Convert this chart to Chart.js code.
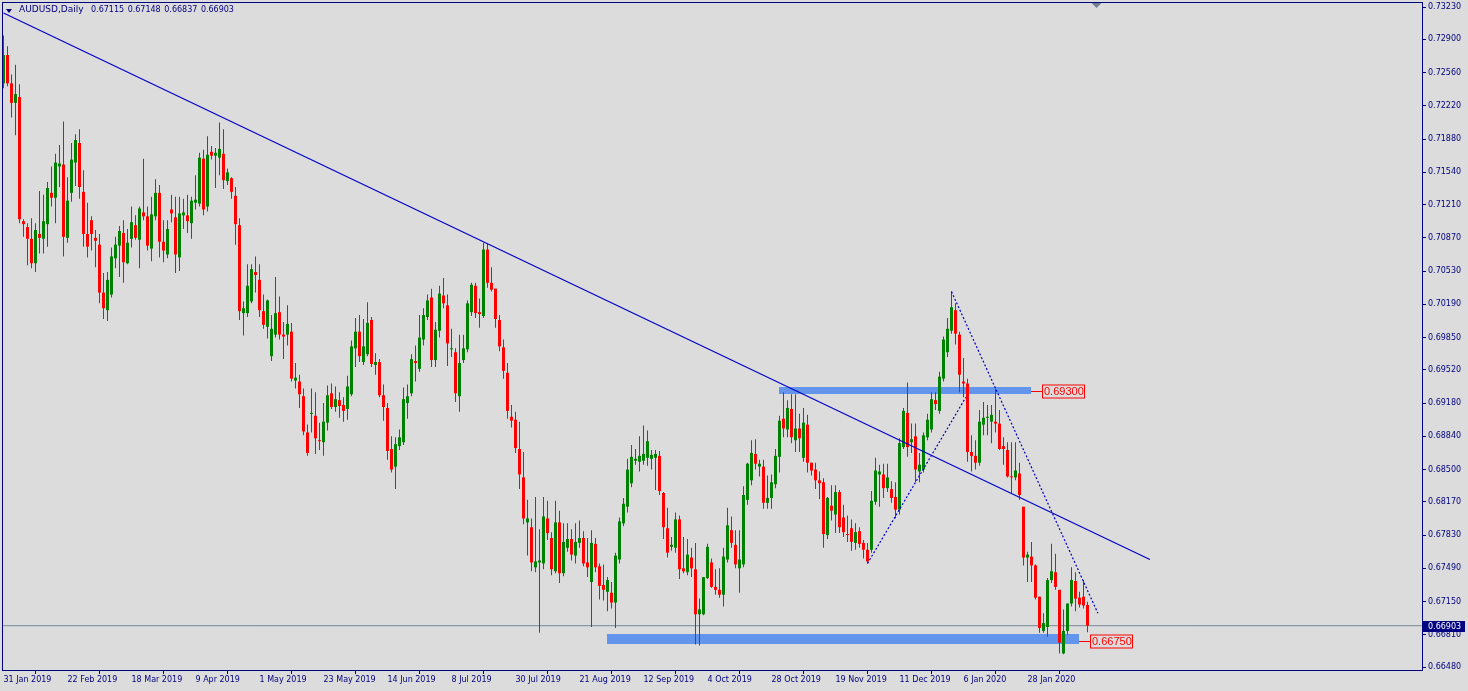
<!DOCTYPE html>
<html>
<head>
<meta charset="utf-8">
<title>AUDUSD,Daily</title>
<script src="https://cdn.jsdelivr.net/npm/chart.js@4.4.1/dist/chart.umd.min.js"></script>
<style>
  html, body { margin: 0; padding: 0; background: #dcdcdc; }
  #wrap { position: relative; width: 1468px; height: 691px; overflow: hidden; }
  #head { position: absolute; left: 0; top: 0; color: #000080; font-family: "DejaVu Sans", sans-serif; white-space: pre; }
  #head .tri { position: absolute; left: 6px; top: 9px; width: 0; height: 0;
               border-left: 3.5px solid transparent; border-right: 3.5px solid transparent; border-top: 4px solid #000080; }
  #head .sym { position: absolute; left: 19px; top: 4px; font-size: 9px; line-height: 11px; }
  #head .q { position: absolute; left: 91px; top: 5px; font-size: 8px; line-height: 10px; word-spacing: 1px; }
</style>
</head>
<body>
<div id="wrap">
  <canvas id="chart" width="1468" height="691"></canvas>
  <div id="head"><span class="tri"></span><span class="sym">AUDUSD,Daily</span><span class="q">0.67115 0.67148 0.66837 0.66903</span></div>
</div>
<script>
// ===== DATA =====
const dateLabels = ["31 Jan 2019", "22 Feb 2019", "18 Mar 2019", "9 Apr 2019", "1 May 2019", "23 May 2019",
  "14 Jun 2019", "8 Jul 2019", "30 Jul 2019", "21 Aug 2019", "12 Sep 2019", "4 Oct 2019", "28 Oct 2019",
  "19 Nov 2019", "11 Dec 2019", "6 Jan 2020", "28 Jan 2020"];
const dateBars = [0, 16, 32, 48, 64, 80, 96, 112, 128, 144, 160, 176, 192, 208, 224, 240, 256];

const priceTicks = [0.73230, 0.72900, 0.72560, 0.72220, 0.71880, 0.71540, 0.71210, 0.70870, 0.70530, 0.70190,
  0.69850, 0.69520, 0.69180, 0.68840, 0.68500, 0.68170, 0.67830, 0.67490, 0.67150, 0.66810, 0.66480];

const openP = [
  0.7245,0.7274,0.7245,0.7225,0.7231,0.7104,0.7098,0.7086,0.7061,0.7091,
  0.7086,0.7101,0.7133,0.7128,0.7160,0.7162,0.7087,0.7133,0.7164,0.7184,
  0.7134,0.7091,0.7105,0.7087,0.7080,0.7031,0.7013,0.7029,0.7066,0.7079,
  0.7092,0.7061,0.7086,0.7100,0.7085,0.7113,0.7109,0.7076,0.7109,0.7133,
  0.7083,0.7070,0.7116,0.7108,0.7067,0.7110,0.7110,0.7102,0.7123,0.7122,
  0.7168,0.7119,0.7175,0.7171,0.7169,0.7173,0.7145,0.7148,0.7130,0.7100,
  0.7010,0.7010,0.7022,0.7052,0.7044,0.7012,0.6996,0.6966,0.6988,0.7011,
  0.6988,0.6988,0.6991,0.6941,0.6940,0.6925,0.6888,0.6907,0.6905,0.6880,
  0.6878,0.6898,0.6928,0.6914,0.6921,0.6916,0.6912,0.6927,0.6974,0.6991,
  0.6960,0.6968,0.7003,0.6957,0.6960,0.6926,0.6913,0.6871,0.6853,0.6874,
  0.6878,0.6918,0.6928,0.6961,0.6953,0.6983,0.7006,0.7026,0.6962,0.6992,
  0.7028,0.7018,0.6973,0.6970,0.6925,0.6962,0.6973,0.7011,0.7038,0.7011,
  0.7007,0.7075,0.7041,0.7035,0.7003,0.6975,0.6949,0.6904,0.6901,0.6871,
  0.6842,0.6796,0.6791,0.6750,0.6755,0.6754,0.6800,0.6780,0.6746,0.6796,
  0.6744,0.6770,0.6779,0.6762,0.6775,0.6780,0.6755,0.6735,0.6774,0.6751,
  0.6732,0.6725,0.6724,0.6714,0.6758,0.6795,0.6812,0.6836,0.6859,0.6858,
  0.6859,0.6862,0.6861,0.6862,0.6864,0.6826,0.6790,0.6771,0.6770,0.6799,
  0.6749,0.6745,0.6760,0.6748,0.6702,0.6702,0.6739,0.6755,0.6730,0.6727,
  0.6722,0.6758,0.6788,0.6773,0.6749,0.6753,0.6819,0.6839,0.6866,0.6853,
  0.6853,0.6816,0.6821,0.6835,0.6863,0.6902,0.6891,0.6912,0.6880,0.6892,
  0.6862,0.6896,0.6857,0.6850,0.6839,0.6837,0.6783,0.6813,0.6804,0.6827,
  0.6801,0.6784,0.6790,0.6775,0.6787,0.6775,0.6768,0.6768,0.6817,0.6845,
  0.6845,0.6831,0.6830,0.6822,0.6809,0.6873,0.6908,0.6878,0.6884,0.6848,
  0.6850,0.6883,0.6891,0.6921,0.6910,0.6943,0.6970,0.6992,0.7013,0.6988,
  0.6940,0.6938,0.6868,0.6864,0.6857,0.6896,0.6903,0.6899,0.6899,0.6897,
  0.6874,0.6870,0.6843,0.6842,0.6846,0.6812,0.6760,0.6761,0.6752,0.6720,
  0.6685,0.6689,0.6737,0.6745,0.6727,0.6662,0.6685,0.6713,0.6736,0.6719,
  0.6720,0.67115];
const highP = [
  0.7294,0.7283,0.7254,0.7264,0.7244,0.7106,0.7102,0.7107,0.7102,0.7135,
  0.7131,0.7144,0.7160,0.7173,0.7182,0.7206,0.7149,0.7184,0.7193,0.7198,
  0.7156,0.7123,0.7109,0.7095,0.7091,0.7051,0.7052,0.7077,0.7088,0.7099,
  0.7105,0.7096,0.7119,0.7110,0.7119,0.7168,0.7119,0.7129,0.7147,0.7141,
  0.7105,0.7105,0.7131,0.7129,0.7129,0.7127,0.7131,0.7129,0.7151,0.7174,
  0.7177,0.7191,0.7181,0.7179,0.7205,0.7198,0.7158,0.7149,0.7139,0.7107,
  0.7022,0.7060,0.7060,0.7068,0.7060,0.7029,0.7024,0.7008,0.7047,0.7027,
  0.7001,0.7018,0.7000,0.6959,0.6947,0.6933,0.6896,0.6933,0.6929,0.6898,
  0.6918,0.6936,0.6938,0.6935,0.6929,0.6924,0.6946,0.6982,0.7005,0.7008,
  0.7004,0.7021,0.7006,0.6969,0.6963,0.6937,0.6918,0.6884,0.6883,0.6891,
  0.6934,0.6937,0.6968,0.6977,0.7008,0.7015,0.7029,0.7035,0.7001,0.7038,
  0.7046,0.7029,0.6994,0.6974,0.6988,0.6988,0.7023,0.7041,0.7041,0.7025,
  0.7082,0.7081,0.7057,0.7035,0.7008,0.6983,0.6959,0.6916,0.6909,0.6899,
  0.6868,0.6819,0.6800,0.6822,0.6789,0.6822,0.6818,0.6786,0.6818,0.6808,
  0.6795,0.6795,0.6789,0.6795,0.6798,0.6787,0.6780,0.6788,0.6780,0.6754,
  0.6753,0.6740,0.6735,0.6765,0.6801,0.6821,0.6861,0.6875,0.6871,0.6884,
  0.6895,0.6890,0.6870,0.6870,0.6869,0.6827,0.6811,0.6781,0.6806,0.6803,
  0.6781,0.6779,0.6770,0.6775,0.6718,0.6740,0.6774,0.6759,0.6748,0.6749,
  0.6770,0.6811,0.6802,0.6788,0.6788,0.6833,0.6857,0.6880,0.6881,0.6860,
  0.6860,0.6844,0.6845,0.6871,0.6905,0.6929,0.6921,0.6927,0.6927,0.6907,
  0.6913,0.6906,0.6857,0.6857,0.6848,0.6841,0.6822,0.6834,0.6834,0.6829,
  0.6814,0.6803,0.6799,0.6795,0.6791,0.6778,0.6775,0.6828,0.6862,0.6855,
  0.6856,0.6856,0.6838,0.6837,0.6882,0.6913,0.6939,0.6897,0.6897,0.6867,
  0.6888,0.6907,0.6929,0.6929,0.6950,0.6986,0.7005,0.7032,0.7020,0.6991,
  0.6964,0.6943,0.6885,0.6880,0.6911,0.6919,0.6916,0.6916,0.6933,0.6911,
  0.6883,0.6878,0.6878,0.6878,0.6857,0.6812,0.6766,0.6776,0.6753,0.6720,
  0.6703,0.6739,0.6774,0.6764,0.6727,0.6707,0.6713,0.6750,0.6745,0.6725,
  0.6737,0.67148];
const lowP = [
  0.7240,0.7242,0.7210,0.7192,0.7102,0.7088,0.7059,0.7056,0.7052,0.7071,
  0.7071,0.7078,0.7119,0.7102,0.7139,0.7068,0.7082,0.7124,0.7140,0.7127,
  0.7078,0.7067,0.7074,0.7057,0.7020,0.7004,0.7002,0.7026,0.7056,0.7047,
  0.7041,0.7060,0.7077,0.7085,0.7056,0.7105,0.7074,0.7063,0.7105,0.7067,
  0.7062,0.7066,0.7103,0.7051,0.7053,0.7096,0.7092,0.7086,0.7116,0.7119,
  0.7110,0.7114,0.7167,0.7138,0.7151,0.7137,0.7141,0.7127,0.7080,0.7003,
  0.6987,0.7006,0.7020,0.7031,0.7006,0.6994,0.6984,0.6961,0.6985,0.6983,
  0.6963,0.6977,0.6940,0.6933,0.6913,0.6885,0.6864,0.6888,0.6866,0.6870,
  0.6864,0.6890,0.6912,0.6909,0.6903,0.6899,0.6901,0.6925,0.6955,0.6960,
  0.6957,0.6966,0.6955,0.6947,0.6924,0.6900,0.6860,0.6847,0.6830,0.6870,
  0.6875,0.6902,0.6925,0.6940,0.6950,0.6977,0.7003,0.6955,0.6955,0.6985,
  0.7015,0.6956,0.6965,0.6919,0.6909,0.6959,0.6970,0.7007,0.7005,0.6995,
  0.7005,0.7036,0.7032,0.6995,0.6971,0.6943,0.6902,0.6893,0.6867,0.6830,
  0.6794,0.6762,0.6746,0.6745,0.6683,0.6748,0.6778,0.6742,0.6744,0.6734,
  0.6741,0.6766,0.6757,0.6754,0.6770,0.6751,0.6740,0.6689,0.6745,0.6717,
  0.6716,0.6705,0.6708,0.6688,0.6754,0.6792,0.6806,0.6832,0.6855,0.6848,
  0.6855,0.6854,0.6850,0.6829,0.6824,0.6779,0.6760,0.6767,0.6765,0.6738,
  0.6744,0.6742,0.6740,0.6671,0.6670,0.6701,0.6738,0.6729,0.6722,0.6719,
  0.6710,0.6755,0.6770,0.6749,0.6724,0.6750,0.6814,0.6834,0.6850,0.6843,
  0.6810,0.6810,0.6810,0.6831,0.6847,0.6883,0.6883,0.6877,0.6868,0.6868,
  0.6858,0.6847,0.6844,0.6830,0.6820,0.6770,0.6779,0.6798,0.6785,0.6785,
  0.6781,0.6776,0.6767,0.6768,0.6770,0.6759,0.6754,0.6765,0.6814,0.6812,
  0.6821,0.6827,0.6816,0.6800,0.6804,0.6871,0.6863,0.6867,0.6837,0.6837,
  0.6847,0.6880,0.6888,0.6911,0.6907,0.6940,0.6965,0.6989,0.6978,0.6929,
  0.6924,0.6858,0.6848,0.6850,0.6854,0.6885,0.6885,0.6877,0.6888,0.6870,
  0.6855,0.6842,0.6826,0.6839,0.6819,0.6752,0.6735,0.6735,0.6717,0.6683,
  0.6683,0.6679,0.6734,0.6727,0.6662,0.6661,0.6681,0.6710,0.6705,0.6709,
  0.6708,0.66837];
const closeP = [
  0.7274,0.7245,0.7225,0.7234,0.7106,0.7101,0.7086,0.7061,0.7095,0.7087,
  0.7104,0.7138,0.7128,0.7164,0.7163,0.7088,0.7125,0.7167,0.7187,0.7139,
  0.7091,0.7078,0.7091,0.7084,0.7031,0.7015,0.7044,0.7068,0.7080,0.7094,
  0.7062,0.7082,0.7103,0.7087,0.7117,0.7109,0.7079,0.7111,0.7133,0.7083,
  0.7074,0.7096,0.7112,0.7070,0.7112,0.7113,0.7104,0.7125,0.7126,0.7169,
  0.7116,0.7172,0.7171,0.7174,0.7178,0.7146,0.7154,0.7134,0.7101,0.7012,
  0.7015,0.7038,0.7055,0.7049,0.7013,0.6998,0.7023,0.6994,0.7010,0.6988,
  0.6986,0.6999,0.6943,0.6944,0.6927,0.6889,0.6867,0.6908,0.6882,0.6879,
  0.6899,0.6926,0.6914,0.6922,0.6915,0.6910,0.6935,0.6976,0.6991,0.6966,
  0.6976,0.7000,0.6958,0.6960,0.6926,0.6914,0.6869,0.6850,0.6876,0.6883,
  0.6922,0.6925,0.6963,0.6959,0.6985,0.7008,0.7023,0.6962,0.6993,0.7030,
  0.7020,0.6979,0.6974,0.6928,0.6959,0.6974,0.7020,0.7039,0.7010,0.7009,
  0.7075,0.7041,0.7034,0.7004,0.6976,0.6951,0.6910,0.6900,0.6872,0.6845,
  0.6800,0.6800,0.6755,0.6756,0.6757,0.6802,0.6785,0.6748,0.6796,0.6744,
  0.6776,0.6779,0.6763,0.6776,0.6780,0.6754,0.6750,0.6775,0.6750,0.6731,
  0.6727,0.6737,0.6714,0.6762,0.6797,0.6815,0.6850,0.6863,0.6861,0.6864,
  0.6866,0.6879,0.6865,0.6866,0.6828,0.6791,0.6765,0.6773,0.6799,0.6748,
  0.6746,0.6763,0.6749,0.6702,0.6707,0.6740,0.6771,0.6730,0.6727,0.6722,
  0.6761,0.6793,0.6775,0.6753,0.6758,0.6824,0.6856,0.6867,0.6856,0.6856,
  0.6816,0.6821,0.6837,0.6864,0.6900,0.6892,0.6913,0.6883,0.6892,0.6882,
  0.6898,0.6857,0.6849,0.6839,0.6836,0.6784,0.6821,0.6808,0.6827,0.6791,
  0.6786,0.6783,0.6776,0.6786,0.6774,0.6768,0.6756,0.6818,0.6849,0.6848,
  0.6831,0.6842,0.6821,0.6809,0.6877,0.6910,0.6873,0.6881,0.6850,0.6855,
  0.6885,0.6901,0.6922,0.6917,0.6945,0.6983,0.6994,0.7016,0.6989,0.6947,
  0.6938,0.6868,0.6864,0.6857,0.6899,0.6903,0.6904,0.6906,0.6897,0.6871,
  0.6871,0.6843,0.6842,0.6849,0.6824,0.6760,0.6763,0.6752,0.6719,0.6688,
  0.6693,0.6737,0.6746,0.6730,0.6673,0.6685,0.6713,0.6737,0.6718,0.6712,
  0.6711,0.66903];

// trend line (solid) and the two dotted lines: [bar, price] ends
const trendBars = [0, 286.6];
const trendPrices = [0.73169, 0.67580];
const dotUpBars = [216, 240.6];
const dotUpPrices = [0.6754, 0.6924];
const dotDownBars = [237, 273.6];
const dotDownPrices = [0.7032, 0.6703];

// rectangles and their price labels
const zoneFrom = [193.9, 150.9];
const zoneTo = [256.9, 268.9];
const zoneHigh = [0.6934, 0.6682];
const zoneLow = [0.6927, 0.6672];
const zonePrice = [0.69300, 0.66750];

// ===== STYLE =====
const NAVY = "#000080";
const BULL = "#008000";
const BEAR = "#ff0000";
const LINE = "#0000c8";
const ZONE = "#6495ed";
const AXIS_FONT = { family: "DejaVu Sans", size: 8 };

const lastIdx = closeP.length - 1;
const lastClose = closeP[lastIdx];
const xMin = -0.375, xMax = 354.625;

const colors = closeP.map((c, i) => c >= openP[i] ? BULL : BEAR);
const bodies = openP.map((o, i) => ({ x: i, y: [o, closeP[i]] }));
const wicks = lowP.map((l, i) => ({ x: i, y: [l, highP[i]] }));
const pts = (xs, ys) => xs.map((v, i) => ({ x: v, y: ys[i] }));

// ===== DRAWING HELPERS =====
const mt4Plugin = {
  id: "mt4",
  beforeDatasetsDraw(chart) {
    const { ctx, scales: { x, y } } = chart;
    ctx.save();
    ctx.fillStyle = ZONE;
    zoneFrom.forEach((f, k) => {
      const x0 = Math.round(x.getPixelForValue(f));
      const x1 = Math.round(x.getPixelForValue(zoneTo[k]));
      const y0 = Math.round(y.getPixelForValue(zoneHigh[k]));
      const y1 = Math.round(y.getPixelForValue(zoneLow[k]));
      ctx.fillRect(x0, y0, x1 - x0, y1 - y0);
    });
    ctx.restore();
  },
  afterDraw(chart) {
    const { ctx, chartArea: a, scales: { x, y } } = chart;
    ctx.save();

    // frame
    ctx.strokeStyle = NAVY;
    ctx.lineWidth = 1;
    ctx.strokeRect(a.left + 0.5, a.top + 0.5, a.right - a.left, a.bottom - a.top);

    // price labels at the end of the rectangles
    ctx.font = '11px "Liberation Sans"';
    ctx.textBaseline = "middle";
    zonePrice.forEach((p, k) => {
      const xe = Math.round(x.getPixelForValue(zoneTo[k]));
      const yp = Math.round(y.getPixelForValue(p)) + 0.5;
      ctx.strokeStyle = BEAR;
      ctx.beginPath();
      ctx.moveTo(xe, yp);
      ctx.lineTo(xe + 11, yp);
      ctx.stroke();
      ctx.strokeRect(xe + 11.5, yp - 6.5, 42, 13);
      ctx.fillStyle = BEAR;
      ctx.fillText(p.toFixed(5), xe + 13, yp + 0.5);
    });

    // current price box on the axis
    const yc = Math.round(y.getPixelForValue(lastClose));
    ctx.fillStyle = NAVY;
    ctx.fillRect(a.right + 1, yc - 5, 42, 11);
    ctx.fillStyle = "#ffffff";
    ctx.font = '8px "DejaVu Sans"';
    ctx.fillText(lastClose.toFixed(5), a.right + 6, yc + 0.5);

    // chart shift marker
    const cx = Math.round(x.getPixelForValue(lastIdx + 2)) + 0.5;
    ctx.fillStyle = "#708090";
    ctx.beginPath();
    ctx.moveTo(cx - 5, a.top + 1);
    ctx.lineTo(cx + 5, a.top + 1);
    ctx.lineTo(cx, a.top + 6);
    ctx.closePath();
    ctx.fill();

    ctx.restore();
  }
};

// ===== CHART =====
new Chart(document.getElementById("chart"), {
  type: "bar",
  data: {
    datasets: [
      { type: "line", data: pts(trendBars, trendPrices), borderColor: LINE, borderWidth: 1.2,
        pointRadius: 0, order: 0 },
      { type: "line", data: pts(dotUpBars, dotUpPrices), borderColor: LINE, borderWidth: 1.2,
        borderDash: [2, 2], pointRadius: 0, order: 0 },
      { type: "line", data: pts(dotDownBars, dotDownPrices), borderColor: LINE, borderWidth: 1.2,
        borderDash: [2, 2], pointRadius: 0, order: 0 },
      { data: bodies, backgroundColor: colors, barThickness: 3, minBarLength: 1, grouped: false,
        inflateAmount: 0, borderWidth: 0, order: 1 },
      { data: wicks, backgroundColor: colors, barThickness: 1, grouped: false,
        inflateAmount: 0, borderWidth: 0, order: 2 },
      { type: "line", data: pts([xMin, xMax], [lastClose, lastClose]), borderColor: "#778899",
        borderWidth: 1, pointRadius: 0, order: 3 }
    ]
  },
  options: {
    responsive: false,
    animation: false,
    events: [],
    layout: { padding: { left: 2, top: 2, right: 0, bottom: 0 } },
    plugins: { legend: { display: false }, tooltip: { enabled: false } },
    scales: {
      x: {
        type: "linear", min: xMin, max: xMax, offset: false,
        afterBuildTicks: s => { s.ticks = dateBars.map(v => ({ value: v })); },
        afterFit: s => { s.height = 21; s.paddingLeft = 0; s.paddingRight = 0; },
        grid: { drawOnChartArea: false, drawTicks: true, tickLength: 4, tickColor: NAVY },
        border: { display: true, color: NAVY },
        ticks: { autoSkip: false, maxRotation: 0, minRotation: 0, align: "start", padding: 1,
                 color: NAVY, font: AXIS_FONT, callback: (v, i) => dateLabels[i] }
      },
      y: {
        type: "linear", position: "right", min: 0.6645, max: 0.73282,
        afterBuildTicks: s => { s.ticks = priceTicks.map(v => ({ value: v })); },
        afterFit: s => { s.width = 46; s.paddingTop = 0; s.paddingBottom = 0; },
        grid: { drawOnChartArea: false, drawTicks: true, tickLength: 4, tickColor: NAVY },
        border: { display: true, color: NAVY },
        ticks: { autoSkip: false, padding: 2, color: NAVY, font: AXIS_FONT,
                 callback: v => v.toFixed(5) }
      }
    }
  },
  plugins: [mt4Plugin]
});
</script>
</body>
</html>
